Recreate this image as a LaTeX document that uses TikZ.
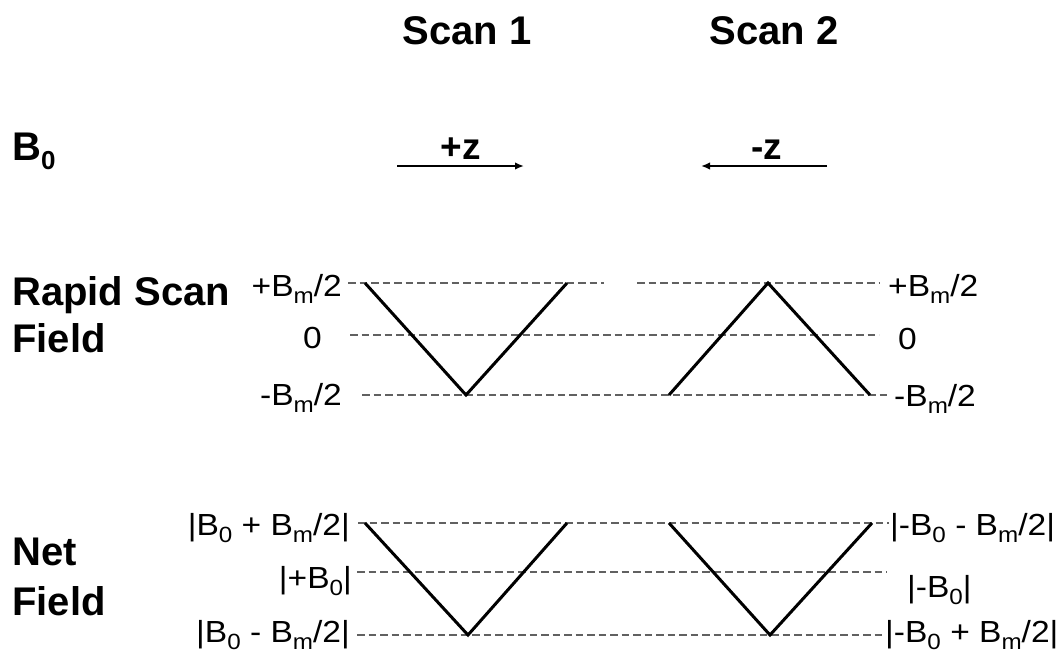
\documentclass[tikz,border=0pt]{standalone}
\usepackage{fontspec}
\usepackage{graphicx}
\setmainfont{Liberation Sans}
\usetikzlibrary{arrows.meta}
\newcommand{\lsub}[1]{\raisebox{-7.5pt}{\fontsize{22}{22}\selectfont #1}}
\newcommand{\bsub}[1]{\raisebox{-9pt}{\fontsize{26}{26}\selectfont #1}}
\newcommand{\lbl}[1]{\scalebox{1.1}[1]{#1}}
\tikzset{
  head/.style={font=\fontsize{40}{48}\selectfont\bfseries, inner sep=0pt},
  dirlbl/.style={font=\fontsize{37}{40}\selectfont\bfseries, inner sep=0pt, anchor=base},
  val/.style={font=\fontsize{30.5}{32}\selectfont, inner sep=0pt},
  guide/.style={draw=black!62, line width=1.1pt, dash pattern=on 7.5pt off 4pt},
  wave/.style={draw=black, line width=3pt, line join=miter},
  bfield/.style={draw=black, line width=2.6pt, -{Latex[length=9pt,width=7.5pt]}}
}
\begin{document}
\begin{tikzpicture}[x=1pt, y=-1pt]
\path[use as bounding box] (0,0) rectangle (1057,654);

% headings
\node[head, anchor=base] (s1) at (467,44) {Scan 1};
\node[head, anchor=base] (s2) at (774,44) {Scan 2};
\node[head, anchor=base west] (b0) at (12,160) {B\bsub{0}};
\node[head, anchor=base west] (rs) at (12,305) {Rapid Scan};
\node[head, anchor=base west] (rf) at (12,352) {Field};
\node[head, anchor=base west] (nn) at (12,565) {Net};
\node[head, anchor=base west] (nf) at (12,615) {Field};

% B0 arrows
\coordinate (a1s) at (397,166); \coordinate (a1e) at (524,166);
\coordinate (a2s) at (827,166); \coordinate (a2e) at (701,166);
\draw[bfield] (a1s) -- (a1e);
\draw[bfield] (a2s) -- (a2e);
\node[dirlbl] (pz) at (461,159) {+z};
\node[dirlbl] (mz) at (767,159) {-z};

% rapid scan guides
\coordinate (rt1) at (348,283); \coordinate (rt2) at (604,283);
\coordinate (rt3) at (637,283); \coordinate (rt4) at (879,283);
\coordinate (rm1) at (350,335); \coordinate (rm2) at (879,335);
\coordinate (rb1) at (362,395); \coordinate (rb2) at (888,395);
\draw[guide] (rt1) -- (rt2);
\draw[guide] (rt3) -- (rt4);
\draw[guide] (rm1) -- (rm2);
\draw[guide] (rb1) -- (rb2);

% rapid scan waves
\coordinate (r1a) at (365,283); \coordinate (r1b) at (466,395); \coordinate (r1c) at (567,283);
\coordinate (r2a) at (669,395); \coordinate (r2b) at (768,283); \coordinate (r2c) at (870,395);
\draw[wave] (r1a) -- (r1b) -- (r1c);
\draw[wave] (r2a) -- (r2b) -- (r2c);

% rapid scan labels
\node[val, anchor=base east] (lrt) at (342,296) {\lbl{+B\lsub{m}/2}};
\node[val, anchor=base east] (lrm) at (322,348) {\lbl{0}};
\node[val, anchor=base east] (lrb) at (342,405) {\lbl{-B\lsub{m}/2}};
\node[val, anchor=base west] (rrt) at (888,296) {\lbl{+B\lsub{m}/2}};
\node[val, anchor=base west] (rrm) at (898,349) {\lbl{0}};
\node[val, anchor=base west] (rrb) at (894,406) {\lbl{-B\lsub{m}/2}};

% net field guides
\coordinate (nt1) at (358,523); \coordinate (nt2) at (889,523);
\coordinate (nm1) at (357,572); \coordinate (nm2) at (887,572);
\coordinate (nb1) at (357,635); \coordinate (nb2) at (884,635);
\draw[guide] (nt1) -- (nt2);
\draw[guide] (nm1) -- (nm2);
\draw[guide] (nb1) -- (nb2);

% net field waves
\coordinate (n1a) at (365,523); \coordinate (n1b) at (468,635); \coordinate (n1c) at (567,523);
\coordinate (n2a) at (669,523); \coordinate (n2b) at (770,635); \coordinate (n2c) at (872,523);
\draw[wave] (n1a) -- (n1b) -- (n1c);
\draw[wave] (n2a) -- (n2b) -- (n2c);

% net field labels
\node[val, anchor=base east] (lnt) at (350,535) {\lbl{|B\lsub{0} + B\lsub{m}/2|}};
\node[val, anchor=base east] (lnm) at (352,588) {\lbl{|+B\lsub{0}|}};
\node[val, anchor=base east] (lnb) at (350,642) {\lbl{|B\lsub{0} - B\lsub{m}/2|}};
\node[val, anchor=base west] (rnt) at (890,535) {\lbl{|-B\lsub{0} - B\lsub{m}/2|}};
\node[val, anchor=base west] (rnm) at (907,597) {\lbl{|-B\lsub{0}|}};
\node[val, anchor=base west] (rnb) at (885,642) {\lbl{|-B\lsub{0} + B\lsub{m}/2|}};
\end{tikzpicture}
\end{document}
